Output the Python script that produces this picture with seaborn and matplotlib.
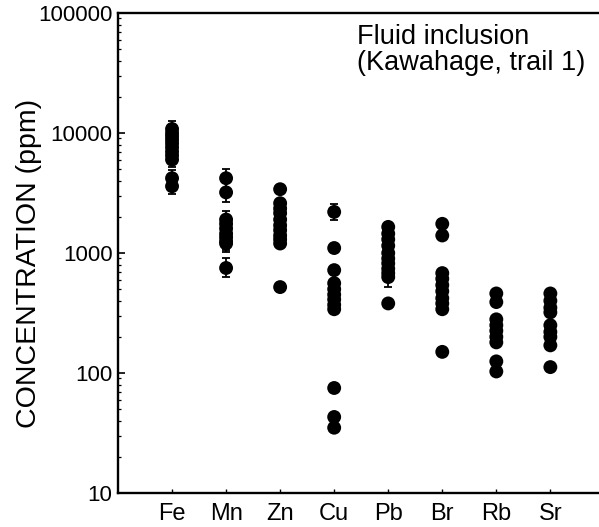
import numpy as np
import pandas as pd
import matplotlib
matplotlib.use("Agg")
import matplotlib.pyplot as plt
import seaborn as sns
from matplotlib.ticker import LogLocator, NullFormatter, FixedLocator, FixedFormatter

# ---- data (ppm) ----
elements = ["Fe", "Mn", "Zn", "Cu", "Pb", "Br", "Rb", "Sr"]
fe = [10800, 10000, 9400, 8800, 8200, 7600, 7000, 6500, 6000, 4200, 3600]
mn = [4200, 3200, 1900, 1750, 1600, 1450, 1350, 1250, 1200, 750]
zn = [3400, 2600, 2350, 2150, 1900, 1700, 1550, 1400, 1300, 1200, 520]
cu = [2200, 1100, 720, 560, 500, 450, 410, 370, 340, 75, 43, 35]
pb = [1650, 1450, 1300, 1150, 1000, 900, 820, 740, 680, 630, 380]
br = [1750, 1400, 680, 610, 540, 480, 420, 380, 340, 150]
rb = [460, 390, 280, 250, 225, 200, 180, 125, 103]
sr = [460, 400, 350, 320, 250, 220, 200, 170, 112]

# relative errors (fraction) per point; 0 = no visible bar
fe_err = [0.17, 0.15, 0.15, 0.15, 0.15, 0.15, 0.15, 0.15, 0.15, 0.17, 0.17]
mn_err = [0.20, 0.20, 0.17, 0.17, 0.17, 0.17, 0.17, 0.17, 0.17, 0.20]
zn_err = [0] * len(zn)
cu_err = [0.17] + [0] * (len(cu) - 1)
pb_err = [0, 0, 0, 0, 0, 0, 0, 0, 0, 0.21, 0]
br_err = [0] * len(br)
rb_err = [0] * len(rb)
sr_err = [0] * len(sr)

values = [fe, mn, zn, cu, pb, br, rb, sr]
errors = [fe_err, mn_err, zn_err, cu_err, pb_err, br_err, rb_err, sr_err]

rows = []
for el, vals, errs in zip(elements, values, errors):
    for v, e in zip(vals, errs):
        rows.append({"element": el, "conc": v, "err": e})
df = pd.DataFrame(rows)

sns.set_style("ticks")
plt.rcParams["font.family"] = ["Liberation Sans", "DejaVu Sans"]
plt.rcParams.update({"text.color": "black", "axes.labelcolor": "black",
                     "xtick.color": "black", "ytick.color": "black",
                     "axes.edgecolor": "black"})

fig = plt.figure(figsize=(5.99, 5.27), dpi=100)
ax = fig.add_axes([118 / 599, 34 / 527, 1 - 118 / 599, 480 / 527])

# error bars
xpos = df["element"].map({e: i for i, e in enumerate(elements)}).to_numpy()
c = df["conc"].to_numpy(dtype=float)
r = df["err"].to_numpy(dtype=float)
mask = r > 0
lower = c[mask] - c[mask] / (1 + r[mask])
upper = c[mask] * r[mask]
ax.errorbar(xpos[mask], c[mask], yerr=[lower, upper], fmt="none",
            ecolor="black", elinewidth=1.3, capsize=3.2, capthick=1.3, zorder=2)

sns.scatterplot(data=df, x="element", y="conc", ax=ax, color="black",
                s=100, edgecolor="none", linewidth=0, zorder=3, legend=False)

ax.set_yscale("log")
ax.set_ylim(10, 100000)
ax.set_xlim(-1.0, 7.9)

ax.yaxis.set_major_locator(FixedLocator([10, 100, 1000, 10000, 100000]))
ax.yaxis.set_major_formatter(FixedFormatter(["10", "100", "1000", "10000", "100000"]))
ax.yaxis.set_minor_locator(LogLocator(base=10, subs=np.arange(2, 10)))
ax.yaxis.set_minor_formatter(NullFormatter())

ax.set_xticks(range(len(elements)))
ax.set_xticklabels(elements, fontsize=17)
ax.tick_params(axis="y", which="major", direction="in", length=5, width=1.2,
               labelsize=16, pad=4, colors="black")
ax.tick_params(axis="y", which="minor", direction="in", length=2.5, width=0.9,
               colors="black")
ax.tick_params(axis="x", which="major", direction="in", length=3, width=1.0,
               pad=7, colors="black")

ax.set_xlabel("")
ax.set_ylabel("CONCENTRATION (ppm)", fontsize=20.5, color="black")
ax.yaxis.set_label_coords(-0.158, 0.478)

for side in ["left", "bottom", "top"]:
    ax.spines[side].set_linewidth(1.7)
    ax.spines[side].set_color("black")
ax.spines["right"].set_visible(False)

fig.text(357 / 599, 1 - 24 / 527, "Fluid inclusion\n(Kawahage, trail 1)",
         ha="left", va="top", fontsize=19.5, linespacing=1.0, color="black")

fig.savefig("out.png", dpi=100)
